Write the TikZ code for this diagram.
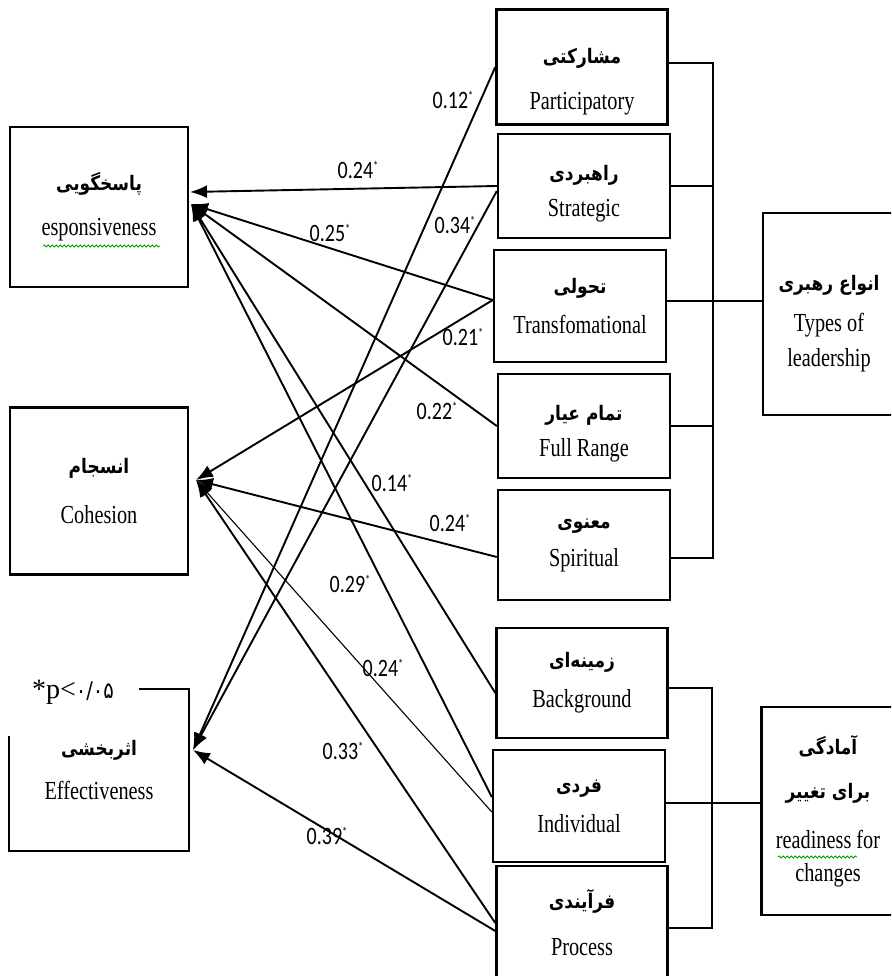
\documentclass[tikz,border=0pt]{standalone}
\usepackage{fontspec}
\usetikzlibrary{arrows.meta,calc,decorations.pathmorphing}
\TeXXeTstate=1
\setmainfont{Liberation Serif}
\newfontfamily\boxfont[FakeStretch=0.78]{Liberation Serif}
\newfontfamily\farsi[Script=Arabic,FakeStretch=0.85]{DejaVu Sans}
\newfontfamily\numfont[FakeStretch=0.8]{Carlito}
\newcommand\fa[1]{{\farsi\bfseries\fontsize{20}{40}\selectfont\beginR #1\endR}}
\newcommand\coef[1]{{\numfont\fontsize{25}{25}\selectfont #1\raisebox{8pt}{\fontsize{13}{13}\selectfont *}}}

\begin{document}
\begin{tikzpicture}[x=1pt,y=-1pt,
	box/.style={draw,line width=2.4pt,align=center,inner sep=0pt,font=\boxfont\fontsize{26}{44}\selectfont},
	link/.style={line width=1.9pt,-{Latex[length=17pt,width=13pt]}},
	coefnode/.style={inner sep=0pt}]
	\useasboundingbox (0,0) rectangle (891,976);
	\clip (0,0) rectangle (891,976);
	% left column
	\node[box,minimum width=178pt,minimum height=160pt] (resp) at (99,207) {\fa{پاسخگویی}\\[1pt] esponsiveness};
	\node[box,minimum width=178pt,minimum height=167pt] (coh) at (99,491) {\fa{انسجام}\\[6pt] Cohesion};
	\node[box,draw=none,minimum width=178pt,minimum height=160pt] (eff) at (99,770) {\fa{اثربخشی}\\ Effectiveness};
	\draw[line width=2.4pt] ($(eff.north west)+(130,0)$) -- (eff.north east) -- (eff.south east) -- (eff.south west) -- ($(eff.north west)+(0,47)$);
	\node[inner sep=0pt,font=\fontsize{28}{28}\selectfont] (sig) at (73,692) {*p<{\farsi\fontsize{23}{23}\selectfont ۰/۰۵}};
	% middle column
	\node[box,minimum width=171pt,minimum height=115pt] (part) at (582,67) {\mbox{}\\\fa{مشارکتی}\\[2pt] Participatory};
	\node[box,minimum width=172pt,minimum height=104pt] (strat) at (584,186) {\mbox{}\\[-14pt]\fa{راهبردی}\\[-8pt] Strategic};
	\node[box,minimum width=172pt,minimum height=112pt] (trans) at (580,306) {\fa{تحولی}\\[-4pt] Transfomational};
	\node[box,minimum width=172pt,minimum height=104pt] (full) at (584,426) {\mbox{}\\[-14pt]\fa{تمام عیار}\\[-8pt] Full Range};
	\node[box,minimum width=172pt,minimum height=110pt] (spir) at (584,545) {\fa{معنوی}\\[-6pt] Spiritual};
	\node[box,minimum width=171pt,minimum height=110pt] (back) at (582,683) {\fa{زمینه‌ای}\\[-4pt] Background};
	\node[box,minimum width=172pt,minimum height=112pt] (indiv) at (579,806) {\fa{فردی}\\[-4pt] Individual};
	\node[box,minimum width=171pt,minimum height=114pt] (proc) at (582,923) {\fa{فرآیندی}\\[3pt] Process};
	% right column
	\node[box,minimum width=132pt,minimum height=202pt] (types) at (829,314) {\mbox{}\\[-10pt]\fa{انواع رهبری}\\[-3pt] Types of\\[-9pt] leadership};
	\node[box,minimum width=133pt,minimum height=208pt] (ready) at (828,811) {\fa{آمادگی}\\ \fa{برای تغییر}\\[6pt] readiness for\\[-11pt] changes};
	% brackets
	\coordinate (bus) at (713,306);
	\coordinate (bus2) at (712,806);
	\draw[line width=2.3pt] ($(part.east)+(0,-4)$) -| (bus) |- ($(spir.east)+(0,13)$);
	\foreach \n in {strat,full}
		\draw[line width=2.3pt] (\n.east) -- (\n.east -| bus);
	\draw[line width=2.3pt] ($(trans.east)+(0,-5)$) -- ($(trans.east -| types.west)+(0,-5)$);
	\draw[line width=2.3pt] ($(back.east)+(0,5)$) -| (bus2) |- ($(proc.east)+(0,5)$);
	\draw[line width=2.3pt] ($(indiv.east)+(0,-3)$) -- ($(indiv.east -| ready.west)+(0,-3)$);
	% spelling marks
	\draw[green!60!black,line width=0.8pt,decorate,decoration={snake,amplitude=1pt,segment length=4pt}] (43,246) -- (160,246);
	\draw[green!60!black,line width=0.8pt,decorate,decoration={snake,amplitude=1pt,segment length=4pt}] (778,857) -- (857,857);
	% paths
	\coordinate (rtop) at (190,192);
	\coordinate (rin) at (191,204);
	\coordinate (cin) at (196,480);
	\coordinate (ein) at (193,750);
	\draw[link] (strat.west) -- (rtop);
	\draw[link] ($(trans.west)+(0,-6)$) -- (rin);
	\draw[link] (full.west) -- (rin);
	\draw[link] ($(back.west)+(0,10)$) -- (rin);
	\draw[link] ($(indiv.west)+(0,-9)$) -- (rin);
	\draw[link,line width=1.1pt] ($(indiv.west)+(0,6)$) -- (cin);
	\draw[link] ($(trans.west)+(0,-6)$) -- (cin);
	\draw[link] ($(spir.west)+(0,12)$) -- (cin);
	\draw[link] (proc.west) -- (cin);
	\draw[link] (part.west) -- (ein);
	\draw[link] ($(strat.west)+(0,5)$) -- (ein);
	\draw[link] ($(proc.west)+(0,8)$) -- (ein);
	% coefficients
	\node[coefnode] (c1) at (453,100) {\coef{0.12}};
	\node[coefnode] (c2) at (358,170) {\coef{0.24}};
	\node[coefnode] (c3) at (330,233) {\coef{0.25}};
	\node[coefnode] (c4) at (455,225) {\coef{0.34}};
	\node[coefnode] (c5) at (463,337) {\coef{0.21}};
	\node[coefnode] (c6) at (437,411) {\coef{0.22}};
	\node[coefnode] (c7) at (392,483) {\coef{0.14}};
	\node[coefnode] (c8) at (450,523) {\coef{0.24}};
	\node[coefnode] (c9) at (350,584) {\coef{0.29}};
	\node[coefnode] (c10) at (383,668) {\coef{0.24}};
	\node[coefnode] (c11) at (343,751) {\coef{0.33}};
	\node[coefnode] (c12) at (327,836) {\coef{0.39}};
\end{tikzpicture}
\end{document}
